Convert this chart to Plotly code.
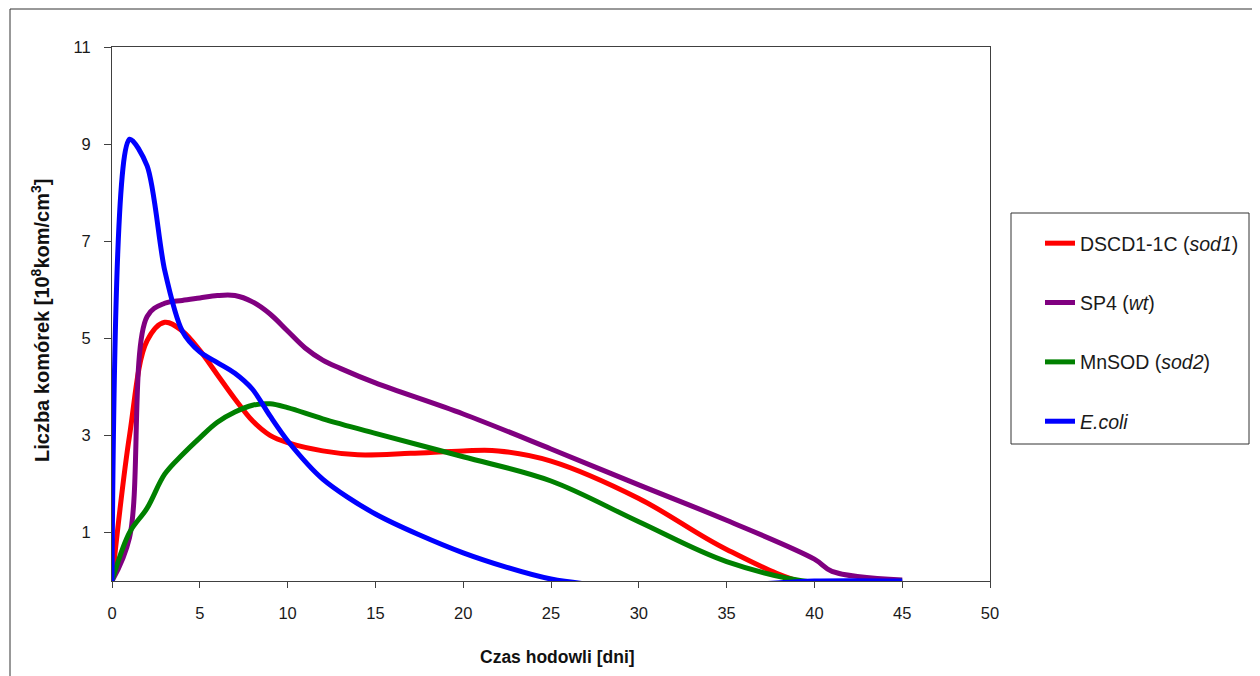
import plotly.graph_objects as go

# ---- data ----
red_x = [0, 1, 2, 3, 4, 5, 6, 7, 8, 9, 10, 12, 14, 17, 20, 22, 25, 30, 35, 40, 45]
red_y = [0, 3.0, 4.95, 5.33, 5.15, 4.75, 4.25, 3.75, 3.3, 3.0, 2.85, 2.68, 2.6, 2.63, 2.68, 2.68, 2.47, 1.7, 0.65, -0.08, 0]

purple_x = [0, 1, 2, 3, 4, 5, 6, 7, 8, 9, 10, 11, 12, 13, 15, 20, 25, 30, 35, 40, 41, 45]
purple_y = [0, 0.9, 5.45, 5.72, 5.78, 5.83, 5.88, 5.88, 5.75, 5.5, 5.15, 4.8, 4.55, 4.38, 4.08, 3.44, 2.72, 1.98, 1.25, 0.45, 0.2, 0.02]

green_x = [0, 1, 2, 3, 4, 5, 6, 7, 8, 9, 10, 12, 15, 20, 25, 30, 35, 40, 45]
green_y = [0, 1.0, 1.5, 2.2, 2.6, 2.95, 3.27, 3.48, 3.62, 3.65, 3.57, 3.34, 3.04, 2.56, 2.06, 1.22, 0.4, -0.03, 0]

blue_x = [0, 1, 2, 3, 4, 5, 6, 7, 8, 9, 10, 12, 15, 20, 25, 30, 35, 40, 45]
blue_y = [0, 9.1, 8.55, 6.4, 5.15, 4.72, 4.5, 4.28, 3.95, 3.4, 2.89, 2.1, 1.38, 0.58, 0.04, -0.14, -0.1, 0, 0]

series_names = ["DSCD1-1C (<i>sod1</i>)", "SP4 (<i>wt</i>)", "MnSOD (<i>sod2</i>)", "<i>E.coli</i>"]
series_colors = ["#FF0000", "#800080", "#008000", "#0000FF"]
series_smoothing = [1.0, 1.0, 1.0, 0.8]

x_ticks = [0, 5, 10, 15, 20, 25, 30, 35, 40, 45, 50]
y_ticks = [1, 3, 5, 7, 9, 11]

x_title = "<b>Czas hodowli [dni]</b>"
y_title = "<b>Liczba komórek [10<sup>8</sup>kom/cm<sup>3</sup>]</b>"

FONT = "Liberation Sans, Arial, sans-serif"
TXT = "#1a1a1a"

fig = go.Figure()
for name, color, sm, xs, ys in zip(series_names, series_colors, series_smoothing,
                                   [red_x, purple_x, green_x, blue_x],
                                   [red_y, purple_y, green_y, blue_y]):
    fig.add_trace(go.Scatter(x=xs, y=ys, mode="lines", name=name,
                             legendgroup=name,
                             line=dict(color=color, width=5, shape="spline", smoothing=sm)))

# page is offset by the 8px body margin; work in page pixels
OFF = 8
W, H = 1252, 668
L, T = 112 - OFF, 47 - OFF
PR, PB = 990 - OFF, 581 - OFF
R, B = W - PR, H - PB
pw, ph = PR - L, PB - T

def fx(p):
    return (p - OFF - L) / pw

def fy(p):
    return (PB - (p - OFF)) / ph

fig.update_layout(
    width=W, height=H,
    margin=dict(l=L, r=R, t=T, b=B, autoexpand=False),
    paper_bgcolor="white", plot_bgcolor="white",
    font=dict(family=FONT, size=17, color=TXT),
    showlegend=True,
    legend=dict(
        x=fx(1040), y=fy(224), xanchor="left", yanchor="top",
        bgcolor="rgba(0,0,0,0)", borderwidth=0,
        font=dict(family=FONT, size=19.5, color=TXT),
        tracegroupgap=31,
    ),
    xaxis=dict(
        range=[0, 50], tickvals=x_ticks, ticktext=[str(v) for v in x_ticks],
        showgrid=False, zeroline=False,
        showline=True, linecolor="#404040", linewidth=1, mirror=True,
        ticks="outside", ticklen=6, tickcolor="#404040",
        tickfont=dict(family=FONT, size=16.5, color=TXT),
        ticklabelstandoff=11,
    ),
    yaxis=dict(
        range=[0, 11], tickvals=y_ticks, ticktext=[str(v) for v in y_ticks],
        showgrid=False, zeroline=False,
        showline=True, linecolor="#404040", linewidth=1, mirror=True,
        ticks="outside", ticklen=7, tickcolor="#404040",
        tickfont=dict(family=FONT, size=16.5, color=TXT),
        ticklabelstandoff=10,
    ),
    annotations=[
        dict(text=x_title, xref="paper", yref="paper", x=fx(557), y=fy(657),
             xanchor="center", yanchor="middle", showarrow=False,
             font=dict(family=FONT, size=17.5, color="#111111")),
        dict(text=y_title, xref="paper", yref="paper", x=fx(41), y=fy(321),
             xanchor="center", yanchor="middle", showarrow=False, textangle=-90,
             font=dict(family=FONT, size=20, color="#111111")),
    ],
    shapes=[
        # outer chart border
        dict(type="rect", xref="paper", yref="paper",
             x0=fx(10), x1=fx(1290), y0=fy(720), y1=fy(9),
             line=dict(color="#333333", width=1), fillcolor="rgba(0,0,0,0)", layer="below"),
        # legend box
        dict(type="rect", xref="paper", yref="paper",
             x0=fx(1011), x1=fx(1249), y0=fy(444), y1=fy(213),
             line=dict(color="#333333", width=1), fillcolor="rgba(0,0,0,0)", layer="below"),
    ],
)

fig.write_html("out.html")
